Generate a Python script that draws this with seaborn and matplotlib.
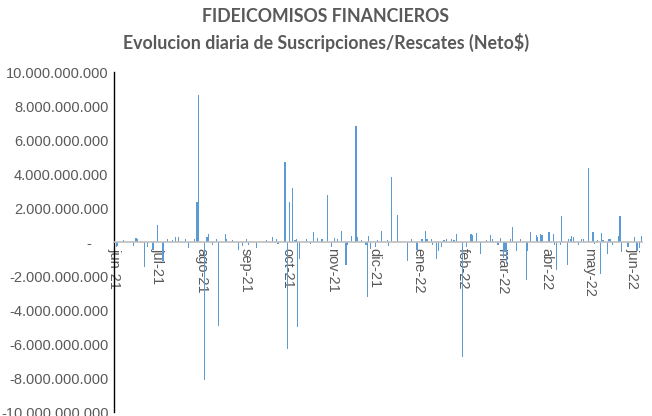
import matplotlib
matplotlib.use("Agg")
import matplotlib.pyplot as plt
import matplotlib.dates as mdates
from matplotlib.ticker import FixedLocator, FuncFormatter
import pandas as pd
import seaborn as sns

# net daily subscriptions/redemptions, only days with movement (miles de millones $)
dates = [
    "2021-06-02", "2021-06-03", "2021-06-07", "2021-06-14", "2021-06-16", "2021-06-17",
    "2021-06-22", "2021-06-24", "2021-06-28", "2021-07-01", "2021-07-05", "2021-07-08",
    "2021-07-12", "2021-07-14", "2021-07-16", "2021-07-21", "2021-07-23", "2021-07-27",
    "2021-07-29", "2021-07-30", "2021-08-03", "2021-08-05", "2021-08-06", "2021-08-09",
    "2021-08-12", "2021-08-13", "2021-08-18", "2021-08-19", "2021-08-23", "2021-08-27",
    "2021-08-30", "2021-09-02", "2021-09-03", "2021-09-09", "2021-09-16", "2021-09-20",
    "2021-09-23", "2021-09-24", "2021-09-29", "2021-10-01", "2021-10-02", "2021-10-04",
    "2021-10-06", "2021-10-07", "2021-10-08", "2021-10-09", "2021-10-14", "2021-10-17",
    "2021-10-19", "2021-10-22", "2021-10-25", "2021-10-29", "2021-11-01", "2021-11-03",
    "2021-11-05", "2021-11-08", "2021-11-11", "2021-11-12", "2021-11-15", "2021-11-18",
    "2021-11-19", "2021-11-22", "2021-11-25", "2021-11-26", "2021-11-27", "2021-11-28",
    "2021-12-02", "2021-12-03", "2021-12-06", "2021-12-10", "2021-12-11", "2021-12-13",
    "2021-12-17", "2021-12-24", "2021-12-27", "2021-12-28", "2021-12-31", "2022-01-03",
    "2022-01-04", "2022-01-06", "2022-01-07", "2022-01-10", "2022-01-11", "2022-01-14",
    "2022-01-15", "2022-01-17", "2022-01-19", "2022-01-21", "2022-01-24", "2022-01-26",
    "2022-01-28", "2022-02-01", "2022-02-04", "2022-02-07", "2022-02-08", "2022-02-11",
    "2022-02-14", "2022-02-18", "2022-02-21", "2022-02-22", "2022-02-26", "2022-02-28",
    "2022-03-02", "2022-03-03", "2022-03-04", "2022-03-07", "2022-03-08", "2022-03-11",
    "2022-03-14", "2022-03-18", "2022-03-19", "2022-03-21", "2022-03-25", "2022-03-26",
    "2022-03-28", "2022-03-29", "2022-04-03", "2022-04-06", "2022-04-07", "2022-04-08",
    "2022-04-11", "2022-04-12", "2022-04-16", "2022-04-17", "2022-04-18", "2022-04-19",
    "2022-04-20", "2022-04-24", "2022-04-26", "2022-04-27", "2022-05-01", "2022-05-04",
    "2022-05-05", "2022-05-07", "2022-05-09", "2022-05-10", "2022-05-11", "2022-05-14",
    "2022-05-15", "2022-05-16", "2022-05-18", "2022-05-22", "2022-05-23", "2022-05-24",
    "2022-05-28", "2022-05-29", "2022-06-02", "2022-06-04", "2022-06-06", "2022-06-07",
]
net_bn = [
    -0.27, -0.25, 0.10, -0.25, 0.25, 0.15,
    -1.47, -0.30, -0.47, 1.00, -1.10, 0.15,
    0.10, 0.30, 0.30, 0.20, -0.35, 0.15,
    2.37, 8.65, -8.10, 0.30, 0.50, -0.20,
    0.20, -4.95, 0.50, 0.20, 0.10, -0.45,
    -0.25, 0.15, -0.15, -0.38, 0.10, 0.30,
    0.20, -0.10, 4.72, -6.30, 2.37, 3.16,
    0.10, 0.15, -5.00, -1.00, 0.15, -0.10,
    0.60, 0.25, 0.15, 2.74, -0.30, 0.25,
    0.15, 0.67, -1.35, -0.15, 0.35, 6.84,
    0.28, 0.10, -0.15, -3.22, 0.33, -0.40,
    -0.30, 0.10, 0.65, 0.10, -0.25, 3.84,
    1.60, -1.14, 0.15, 0.05, -0.45, 0.15,
    0.15, 0.63, 0.20, 0.15, -0.20, -0.98,
    -0.55, -0.30, 0.10, 0.20, 0.20, 0.10,
    0.48, -6.74, -0.30, 0.48, 0.42, 0.52,
    -0.70, 0.10, 0.42, 0.20, -0.15, 0.22,
    -0.95, -0.60, -1.30, 0.20, 0.90, -0.55,
    0.20, -2.25, -0.50, 0.60, 0.40, 0.30,
    0.45, 0.40, 0.60, 0.45, -0.15, -1.65,
    -0.20, 1.52, -1.35, 0.20, 0.15, 0.35,
    0.28, -0.15, 0.15, 0.20, 4.33, 0.60,
    -0.10, 0.10, -1.88, 0.52, 0.10, -0.68,
    0.15, 0.20, -0.20, 0.35, 1.53, -0.60,
    -0.30, -0.30, 0.32, -0.55, -0.35, 0.35,
]

month_ticks = [
    "2021-06-01", "2021-07-01", "2021-08-01", "2021-09-01", "2021-10-01", "2021-11-01",
    "2021-12-01", "2022-01-01", "2022-02-01", "2022-03-01", "2022-04-01", "2022-05-01",
    "2022-06-01",
]
month_labels = [
    "jun-21", "jul-21", "ago-21", "sep-21", "oct-21", "nov-21", "dic-21",
    "ene-22", "feb-22", "mar-22", "abr-22", "may-22", "jun-22",
]

df = pd.DataFrame({"fecha": pd.to_datetime(dates), "neto": [v * 1e9 for v in net_bn]})
df["dia"] = mdates.date2num(df["fecha"])

sns.set_theme(style="white")
plt.rcParams["font.family"] = ["Liberation Sans", "DejaVu Sans"]

grey = "#595959"
blue = "#5B9BD5"
fig = plt.figure(figsize=(6.52, 4.16), dpi=100)
ax = fig.add_axes([114 / 652, 1 - 412 / 416, (642 - 114) / 652, (412 - 72) / 416])

sns.barplot(data=df, x="dia", y="neto", native_scale=True, color=blue,
            saturation=1, width=0.8, errorbar=None, linewidth=0, ax=ax)
# crisp 1px bars like the Excel original
for bar in ax.patches:
    bar.set_antialiased(False)

x0 = mdates.date2num(pd.Timestamp("2021-06-01"))
x1 = mdates.date2num(pd.Timestamp("2022-06-07"))
ax.set_xlim(x0 - 0.5, x1 + 0.5)
ax.set_ylim(-1e10, 1e10)

ax.xaxis.set_major_locator(FixedLocator(mdates.date2num(pd.to_datetime(month_ticks))))
ax.xaxis.set_major_formatter(FuncFormatter(lambda v, i: month_labels[i]))
ax.yaxis.set_major_locator(FixedLocator([i * 2e9 for i in range(-5, 6)]))
ax.yaxis.set_major_formatter(FuncFormatter(
    lambda v, _: "-    " if v == 0 else f"{v:,.0f}".replace(",", ".")))

ax.set_xlabel("")
ax.set_ylabel("")
ax.grid(False)
for s in ["top", "right"]:
    ax.spines[s].set_visible(False)
ax.spines["left"].set_color("black")
ax.spines["left"].set_linewidth(1)
ax.spines["bottom"].set_position(("data", 0))
ax.spines["bottom"].set_color("#BFBFBF")
ax.spines["bottom"].set_linewidth(1.2)
ax.tick_params(axis="x", color="#BFBFBF", labelsize=10.5, length=3, direction="inout",
               pad=3, labelcolor=grey, labelrotation=-90)
ax.tick_params(axis="y", labelsize=10.5, length=0, pad=4, labelcolor=grey)
for lab in ax.get_xticklabels():
    lab.set_ha("center")
    lab.set_va("top")

fig.text(0.5, 1 - 17 / 416, "FIDEICOMISOS FINANCIEROS", ha="center", va="center",
         fontsize=12.8, fontweight="bold", color=grey, family=["Lato", "DejaVu Sans"])
fig.text(0.5, 1 - 42 / 416, "Evolucion diaria de Suscripciones/Rescates (Neto$)",
         ha="center", va="center", fontsize=12.8, fontweight="bold", color=grey,
         family=["Lato", "DejaVu Sans"])

fig.savefig("out.png", dpi=100)
